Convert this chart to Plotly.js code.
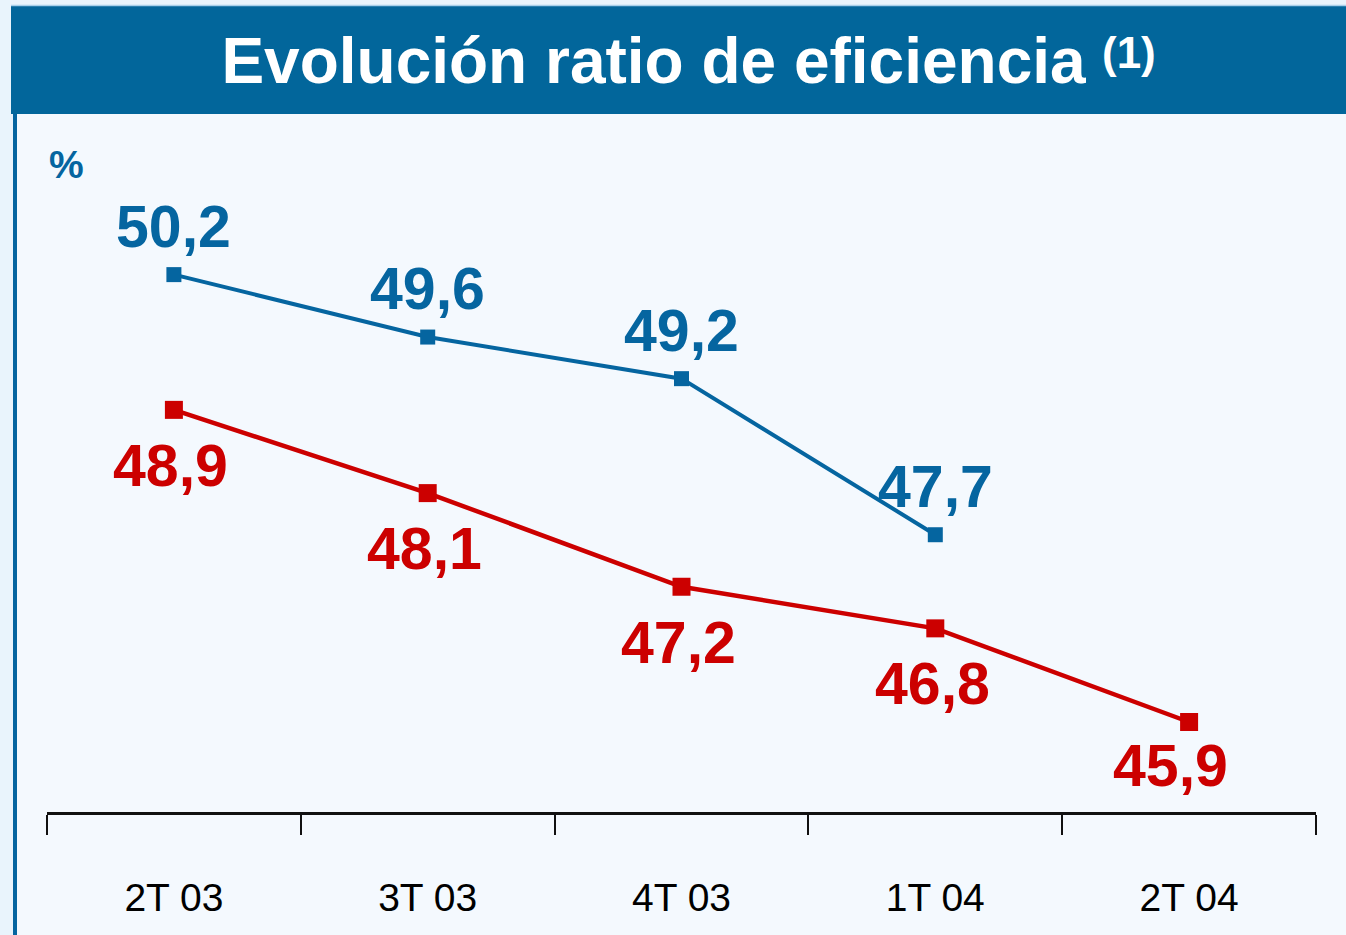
<!DOCTYPE html>
<html>
<head>
<meta charset="utf-8">
<script src="https://cdn.plot.ly/plotly-3.0.1.min.js"></script>
<style>html,body{margin:0;padding:0;background:#e9f4fc;}#chart{width:1346px;height:935px;}</style>
</head>
<body>
<div id="chart"></div>
<script>
const categories = ['2T 03', '3T 03', '4T 03', '1T 04', '2T 04'];
const blueValues = [50.2, 49.6, 49.2, 47.7];
const redValues = [48.9, 48.1, 47.2, 46.8, 45.9];
const titleText = 'Evolución ratio de eficiencia';
const titleNote = '(1)';
const unitLabel = '%';

const BLUE = '#0565a0';
const RED = '#cc0000';
const FONT = '"Liberation Sans", Arial, sans-serif';

const fmt = v => v.toFixed(1).replace('.', ',');

const L = 47, R = 30, T = 130, B = 123, W = 1346, H = 935;
const pw = W - L - R, ph = H - T - B;
const px = x => (x - L) / pw;
const py = y => (H - B - y) / ph;

const traces = [
  {
    x: categories.slice(0, blueValues.length), y: blueValues,
    type: 'scatter', mode: 'lines+markers',
    line: {color: BLUE, width: 4},
    marker: {symbol: 'square', size: 15, color: BLUE},
    hoverinfo: 'skip', cliponaxis: false
  },
  {
    x: categories.slice(0, redValues.length), y: redValues,
    type: 'scatter', mode: 'lines+markers',
    line: {color: RED, width: 4.5},
    marker: {symbol: 'square', size: 18, color: RED},
    hoverinfo: 'skip', cliponaxis: false
  }
];

const annotations = [];
blueValues.forEach((v, i) => annotations.push({
  x: categories[i], y: v, xref: 'x', yref: 'y', text: fmt(v), showarrow: false,
  xanchor: 'center', yanchor: 'middle', yshift: 48,
  font: {family: FONT, size: 59, color: BLUE, weight: 700}
}));
redValues.forEach((v, i) => {
  const last = i === redValues.length - 1;
  annotations.push({
    x: categories[i], y: v, xref: 'x', yref: 'y', text: fmt(v), showarrow: false,
    xanchor: 'center', yanchor: 'middle', yshift: last ? -44 : -56,
    xshift: last ? -19 : -3,
    font: {family: FONT, size: 59, color: RED, weight: 700}
  });
});
annotations.push({
  x: px(66), y: py(165), xref: 'paper', yref: 'paper', text: unitLabel, showarrow: false,
  xanchor: 'center', yanchor: 'middle',
  font: {family: FONT, size: 39, color: BLUE, weight: 700}
});
annotations.push({
  x: px(1129), y: py(52), xref: 'paper', yref: 'paper', text: titleNote, showarrow: false,
  xanchor: 'center', yanchor: 'middle',
  font: {family: FONT, size: 44, color: '#ffffff', weight: 700}
});

const shapes = [
  {type: 'rect', xref: 'paper', yref: 'paper', x0: px(16), x1: px(1346), y0: py(935), y1: py(113),
   fillcolor: '#f4f9fe', line: {width: 0}, layer: 'below'},
  {type: 'rect', xref: 'paper', yref: 'paper', x0: px(13), x1: px(17), y0: py(935), y1: py(113),
   fillcolor: '#0565a0', line: {width: 0}, layer: 'below'},
  {type: 'rect', xref: 'paper', yref: 'paper', x0: px(11), x1: px(1346), y0: py(114), y1: py(5),
   fillcolor: '#02669b', line: {width: 0}, layer: 'below'},
  {type: 'line', xref: 'paper', yref: 'paper', x0: px(11), x1: px(1346), y0: py(5.5), y1: py(5.5),
   line: {color: '#a9d0ea', width: 1.5}, layer: 'below'}
];

const layout = {
  width: W, height: H,
  margin: {l: L, r: R, t: T, b: B, pad: 0},
  paper_bgcolor: '#e9f4fc',
  plot_bgcolor: 'rgba(0,0,0,0)',
  showlegend: false,
  title: {
    text: titleText,
    x: 653.5 / W, xanchor: 'center', xref: 'container',
    y: 1 - 61 / H, yanchor: 'middle', yref: 'container',
    font: {family: FONT, size: 64, color: '#ffffff', weight: 700}
  },
  xaxis: {
    type: 'category', range: [-0.5, 4.5], fixedrange: true,
    showline: true, linecolor: '#111111', linewidth: 2.5,
    ticks: 'outside', tickson: 'boundaries', ticklen: 20, tickwidth: 2, tickcolor: '#111111',
    showgrid: false, zeroline: false,
    tickfont: {family: FONT, size: 39, color: '#000000'},
    ticklabelstandoff: 50
  },
  yaxis: {
    range: [45.035, 51.59], visible: false, fixedrange: true, showgrid: false, zeroline: false
  },
  shapes: shapes,
  annotations: annotations
};

Plotly.newPlot('chart', traces, layout, {displayModeBar: false, staticPlot: true});
</script>
</body>
</html>
